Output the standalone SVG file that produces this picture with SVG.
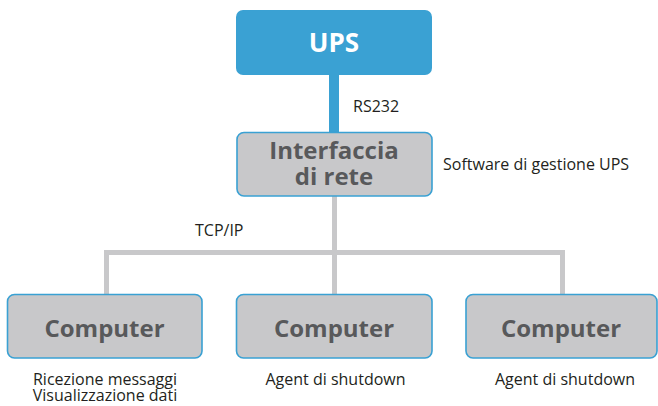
<svg xmlns="http://www.w3.org/2000/svg" width="658" height="406" viewBox="0 0 658 406">
<style>
.box{fill:#c8c8ca;stroke:#3aa1d3;stroke-width:1.6}
.bt{font-family:"Open Sans","Liberation Sans",sans-serif;font-weight:bold;font-size:24px;fill:#58595b;text-anchor:middle}
.lb{font-family:"Open Sans","Liberation Sans",sans-serif;font-size:16px;fill:#231f20}
.c{text-anchor:middle}
.gl{fill:none;stroke:#c8c8ca;stroke-width:5}
</style>
<rect width="658" height="406" fill="#ffffff"/>
<g id="connectors">
<line x1="334" y1="74" x2="334" y2="133" stroke="#3aa1d3" stroke-width="10"/>
<polyline class="gl" points="334.5,196 334.5,252.5"/>
<polyline class="gl" points="106.5,294 106.5,252.5 562.5,252.5 562.5,294"/>
<line class="gl" x1="334.5" y1="252" x2="334.5" y2="294"/>
</g>
<g id="ups">
<rect x="236" y="10" width="196" height="65" rx="7" fill="#3aa1d3"/>
<text x="334" y="52" class="bt" style="fill:#ffffff;font-size:26px">UPS</text>
</g>
<g id="interfaccia">
<rect class="box" x="237" y="132.5" width="195" height="63.5" rx="7"/>
<text x="334" y="159" class="bt">Interfaccia</text>
<text x="334" y="185" class="bt">di rete</text>
</g>
<g id="computer1">
<rect class="box" x="7.5" y="294.5" width="194.5" height="63.5" rx="7"/>
<text x="104.5" y="337" class="bt">Computer</text>
</g>
<g id="computer2">
<rect class="box" x="236.5" y="294.5" width="195.5" height="63.5" rx="7"/>
<text x="334" y="337" class="bt">Computer</text>
</g>
<g id="computer3">
<rect class="box" x="466" y="294.5" width="191" height="63.5" rx="7"/>
<text x="561" y="337" class="bt">Computer</text>
</g>
<g id="labels">
<text x="353" y="112" class="lb">RS232</text>
<text x="443" y="170" class="lb">Software di gestione UPS</text>
<text x="195" y="236" class="lb">TCP/IP</text>
<text x="105" y="384.5" class="lb c">Ricezione messaggi</text>
<text x="105" y="400.5" class="lb c">Visualizzazione dati</text>
<text x="335.5" y="385" class="lb c">Agent di shutdown</text>
<text x="565" y="385" class="lb c">Agent di shutdown</text>
</g>
</svg>
